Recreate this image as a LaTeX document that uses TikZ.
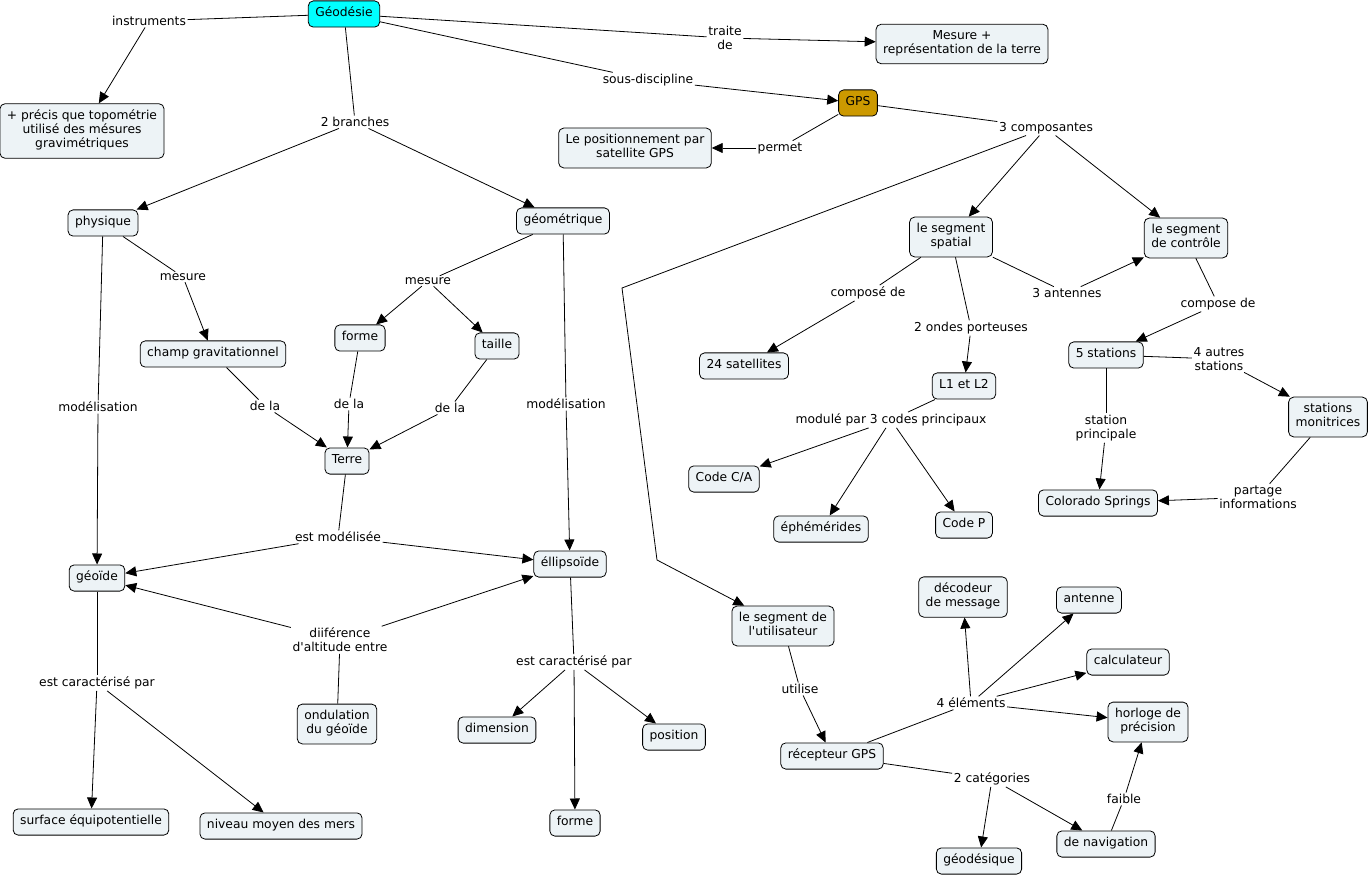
\documentclass[tikz,border=0pt]{standalone}
\usepackage{fontspec}
\setmainfont{DejaVu Sans}
\usetikzlibrary{arrows.meta}
\definecolor{nodefill}{RGB}{237,243,246}
\definecolor{geocyan}{RGB}{0,255,255}
\definecolor{gpsgold}{RGB}{204,153,0}
\begin{document}
\begin{tikzpicture}[x=1pt,y=-1pt,
  font=\fontsize{12.3}{14.2}\selectfont,
  cnode/.style={draw=black, line width=0.8pt, rounded corners=5pt, fill=nodefill,
    align=center, inner xsep=7pt, inner ysep=6pt,
    execute at begin node=\strut, execute at end node=\strut},
  lbl/.style={inner sep=1.5pt, align=center},
  ln/.style={line width=0.8pt},
  arr/.style={line width=0.8pt, -{Triangle[length=11pt,width=10pt]}}]
\useasboundingbox (0,0) rectangle (1369,877);

% concept nodes
\node[cnode, fill=geocyan] (geo) at (344,14) {Géodésie};
\node[cnode] (mesure) at (962,44) {Mesure +\\représentation de la terre};
\node[cnode, fill=gpsgold] (gps) at (858,103) {GPS};
\node[cnode] (posit) at (635,148) {Le positionnement par\\satellite GPS};
\node[cnode] (precis) at (82,131) {+ précis que topométrie\\utilisé des mésures\\gravimétriques};
\node[cnode] (phys) at (103,223) {physique};
\node[cnode] (geom) at (563,221) {géométrique};
\node[cnode] (spat) at (951,237) {le segment\\spatial};
\node[cnode] (ctrl) at (1186,238) {le segment\\de contrôle};
\node[cnode] (champ) at (213,354) {champ gravitationnel};
\node[cnode] (forme1) at (360,338) {forme};
\node[cnode] (taille) at (497,346) {taille};
\node[cnode] (terre) at (347,461) {Terre};
\node[cnode] (sat) at (744,366) {24 satellites};
\node[cnode] (l1l2) at (964,386) {L1 et L2};
\node[cnode] (st5) at (1106,355) {5 stations};
\node[cnode] (monit) at (1328,417) {stations\\monitrices};
\node[cnode] (colo) at (1098,503) {Colorado Springs};
\node[cnode] (codeca) at (724,479) {Code C/A};
\node[cnode] (ephem) at (821,529) {éphémérides};
\node[cnode] (codep) at (964,525) {Code P};
\node[cnode] (geoide) at (97,578) {géoïde};
\node[cnode] (ellip) at (570,564) {éllipsoïde};
\node[cnode] (util) at (783,626) {le segment de\\l\textquotesingle utilisateur};
\node[cnode] (decod) at (963,597) {décodeur\\de message};
\node[cnode] (anten) at (1089,600) {antenne};
\node[cnode] (calc) at (1128,662) {calculateur};
\node[cnode] (horl) at (1148,722) {horloge de\\précision};
\node[cnode] (ondul) at (337,724) {ondulation\\du géoïde};
\node[cnode] (dimen) at (497,730) {dimension};
\node[cnode] (posi) at (674,737) {position};
\node[cnode] (recep) at (832,756) {récepteur GPS};
\node[cnode] (surf) at (91,822) {surface équipotentielle};
\node[cnode] (niveau) at (281,826) {niveau moyen des mers};
\node[cnode] (forme2) at (575,823) {forme};
\node[cnode] (geodq) at (979,861) {géodésique};
\node[cnode] (navig) at (1106,844) {de navigation};

% link labels
\node[lbl] (linstr) at (149,21) {instruments};
\node[lbl] (ltraite) at (725,38) {traite\\de};
\node[lbl] (lsous) at (648,80) {sous-discipline};
\node[lbl] (lbranch) at (355,122) {2 branches};
\node[lbl] (lpermet) at (780,148) {permet};
\node[lbl] (lcomp) at (1046,128) {3 composantes};
\node[lbl] (lmes1) at (183,277) {mesure};
\node[lbl] (lmes2) at (428,281) {mesure};
\node[lbl] (lcompo) at (868,293) {composé de};
\node[lbl] (lant) at (1067,293) {3 antennes};
\node[lbl] (lcompde) at (1218,304) {compose de};
\node[lbl] (londes) at (971,328) {2 ondes porteuses};
\node[lbl] (lautres) at (1219,359) {4 autres\\stations};
\node[lbl] (lprinc) at (1106,428) {station\\principale};
\node[lbl] (lpart) at (1258,497) {partage\\informations};
\node[lbl] (lmodule) at (891,420) {modulé par 3 codes principaux};
\node[lbl] (lmod1) at (98,407) {modélisation};
\node[lbl] (lmod2) at (566,404) {modélisation};
\node[lbl] (lde1) at (265,406) {de la};
\node[lbl] (lde2) at (349,404) {de la};
\node[lbl] (lde3) at (450,408) {de la};
\node[lbl] (lestmod) at (338,537) {est modélisée};
\node[lbl] (ldiff) at (340,640) {diiférence\\d\textquotesingle altitude entre};
\node[lbl] (lcar1) at (97,683) {est caractérisé par};
\node[lbl] (lcar2) at (574,662) {est caractérisé par};
\node[lbl] (lutil) at (800,689) {utilise};
\node[lbl] (lelem) at (971,703) {4 éléments};
\node[lbl] (lcat) at (992,779) {2 catégories};
\node[lbl] (lfaible) at (1124,799) {faible};

\coordinate (b1) at (622,288);
\coordinate (b2) at (657,560);

% connectors
\draw[ln] (geo) -- (linstr);  \draw[arr] (linstr) -- (precis);
\draw[ln] (geo) -- (ltraite); \draw[arr] (ltraite) -- (mesure);
\draw[ln] (geo) -- (lsous);   \draw[arr] (lsous) -- (gps);
\draw[ln] (geo) -- (lbranch); \draw[arr] (lbranch) -- (phys); \draw[arr] (lbranch) -- (geom);
\draw[ln] (gps) -- (lpermet); \draw[arr] (lpermet) -- (posit);
\draw[ln] (gps) -- (lcomp);
\draw[arr] (lcomp) -- (spat); \draw[arr] (lcomp) -- (ctrl);
\draw[arr] (lcomp) -- (b1) -- (b2) -- (util);
\draw[ln] (phys) -- (lmes1);  \draw[arr] (lmes1) -- (champ);
\draw[ln] (phys) -- (lmod1);  \draw[arr] (lmod1) -- (geoide);
\draw[ln] (geom) -- (lmes2);  \draw[arr] (lmes2) -- (forme1); \draw[arr] (lmes2) -- (taille);
\draw[ln] (geom) -- (lmod2);  \draw[arr] (lmod2) -- (ellip);
\draw[ln] (spat) -- (lcompo); \draw[arr] (lcompo) -- (sat);
\draw[ln] (spat) -- (lant);   \draw[arr] (lant) -- (ctrl);
\draw[ln] (spat) -- (londes); \draw[arr] (londes) -- (l1l2);
\draw[ln] (ctrl) -- (lcompde); \draw[arr] (lcompde) -- (st5);
\draw[ln] (champ) -- (lde1);  \draw[arr] (lde1) -- (terre);
\draw[ln] (forme1) -- (lde2); \draw[arr] (lde2) -- (terre);
\draw[ln] (taille) -- (lde3); \draw[arr] (lde3) -- (terre);
\draw[ln] (l1l2) -- (lmodule);
\draw[arr] (lmodule) -- (codeca); \draw[arr] (lmodule) -- (ephem); \draw[arr] (lmodule) -- (codep);
\draw[ln] (st5) -- (lautres); \draw[arr] (lautres) -- (monit);
\draw[ln] (st5) -- (lprinc);  \draw[arr] (lprinc) -- (colo);
\draw[ln] (monit) -- (lpart); \draw[arr] (lpart) -- (colo);
\draw[ln] (terre) -- (lestmod); \draw[arr] (lestmod) -- (geoide); \draw[arr] (lestmod) -- (ellip);
\draw[ln] (ondul) -- (ldiff); \draw[arr] (ldiff) -- (geoide); \draw[arr] (ldiff) -- (ellip);
\draw[ln] (geoide) -- (lcar1); \draw[arr] (lcar1) -- (surf); \draw[arr] (lcar1) -- (niveau);
\draw[ln] (ellip) -- (lcar2); \draw[arr] (lcar2) -- (dimen); \draw[arr] (lcar2) -- (posi); \draw[arr] (lcar2) -- (forme2);
\draw[ln] (util) -- (lutil);  \draw[arr] (lutil) -- (recep);
\draw[ln] (recep) -- (lelem);
\draw[arr] (lelem) -- (decod); \draw[arr] (lelem) -- (anten); \draw[arr] (lelem) -- (calc); \draw[arr] (lelem) -- (horl);
\draw[ln] (recep) -- (lcat);  \draw[arr] (lcat) -- (geodq); \draw[arr] (lcat) -- (navig);
\draw[ln] (navig) -- (lfaible); \draw[arr] (lfaible) -- (horl);
\end{tikzpicture}
\end{document}
